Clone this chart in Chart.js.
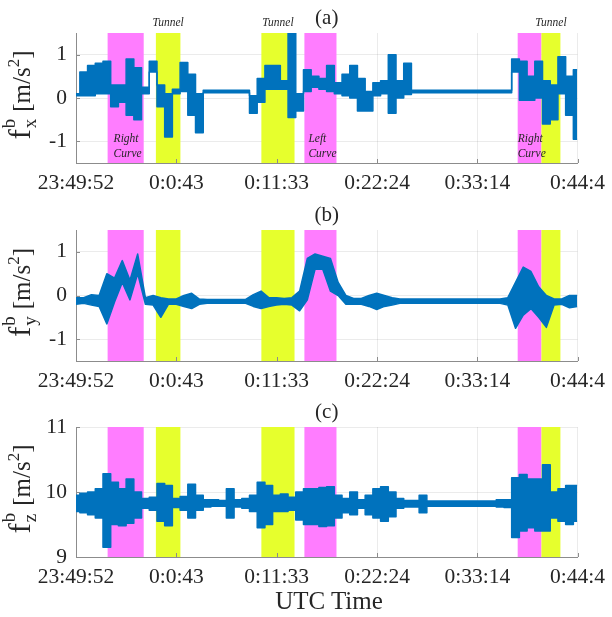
<!DOCTYPE html>
<html>
<head>
<meta charset="utf-8">
<script src="https://cdn.jsdelivr.net/npm/chart.js@4"></script>
<style>
body { margin: 0; background: #fff; width: 612px; height: 617px; overflow: hidden; position: relative; }
.panel { position: absolute; left: 0; width: 612px; }
#xlab { position: absolute; left: 76px; width: 506px; top: 586px; text-align: center;
  font: 25px "Liberation Serif", serif; color: #262626; line-height: 30px; }
</style>
</head>
<body>
<div class="panel" style="top:0;height:194px"><canvas id="pa"></canvas></div>
<div class="panel" style="top:196px;height:196px"><canvas id="pb"></canvas></div>
<div class="panel" style="top:392px;height:196px"><canvas id="pc"></canvas></div>
<div id="xlab">UTC Time</div>
<script>
// time axis (seconds after 23:49:52)
const tickTimes = [0, 651, 1301, 1952, 2602, 3252];
const tickLabels = ['23:49:52', '0:0:43', '0:11:33', '0:22:24', '0:33:14', '0:44:4'];

const times = [0, 50, 100, 150, 200, 250, 300, 350, 400, 450, 500, 550, 600, 650, 700, 750,
  800, 850, 900, 950, 1000, 1050, 1100, 1150, 1200, 1250, 1300, 1350, 1400, 1450, 1500, 1550,
  1600, 1650, 1700, 1750, 1800, 1850, 1900, 1950, 2000, 2050, 2100, 2150, 2200, 2250, 2300, 2350,
  2400, 2450, 2500, 2550, 2600, 2650, 2700, 2750, 2800, 2850, 2900, 2950, 3000, 3050, 3100, 3150,
  3200, 3250];

// upper / lower edge of the plotted band
const fxHigh = [0.1, 0.6, 0.75, 0.8, 0.85, 0.3, 0.3, 0.9, 0.7, 0.25, 0.85, 0.3, 0.1, 0.2, 0.82, 0.55,
  0.1, 0.18, 0.18, 0.18, 0.18, 0.18, 0.18, 0.05, 0.45, 0.75, 0.75,
  0.4, 1.5, 0.1, 0.65, 0.5, 0.45, 0.75, 0.35, 0.55, 0.75, 0.45, 0.15, 0.35, 0.4, 1.0, 0.4, 0.8,
  0.18, 0.18, 0.18, 0.18, 0.18, 0.18, 0.18, 0.18, 0.18, 0.18, 0.18, 0.18, 0.18,
  0.9, 0.85, 0.5, 0.85, 0.4, 0.3, 0.95, 0.5, 0.65];
const fxLow = [0.05, 0.05, 0.05, 0.1, 0.1, -0.2, -0.1, -0.4, -0.5, 0.1, 0.6, -0.2, -0.9, 0.1, 0.15, -0.4,
  -0.8, 0.12, 0.12, 0.12, 0.12, 0.12, 0.12, -0.35, -0.1, 0.2, 0.2,
  0.2, -0.45, -0.3, 0.15, 0.25, 0.2, 0.15, 0.1, 0.05, 0.0, -0.3, -0.3, 0.05, 0.1, -0.35, 0.0, 0.08,
  0.12, 0.12, 0.12, 0.12, 0.12, 0.12, 0.12, 0.12, 0.12, 0.12, 0.12, 0.12, 0.12,
  0.6, -0.05, -0.05, 0.0, -0.6, -0.5, 0.1, -0.4, -0.95];

const fyHigh = [-0.05, -0.05, 0.02, 0.0, 0.5, 0.4, 0.8, 0.35, 0.95, -0.05, 0.0, -0.05, -0.08, -0.08, 0.0, 0.05,
  -0.08, -0.09, -0.09, -0.09, -0.09, -0.09, -0.09, 0.02, 0.1, -0.05, -0.05,
  -0.07, -0.05, 0.1, 0.85, 0.95, 0.9, 0.85, 0.3, 0.0, -0.07, -0.07, 0.0, 0.05, 0.0, -0.05,
  -0.08, -0.08, -0.08, -0.08, -0.08, -0.08, -0.08, -0.08, -0.08, -0.08, -0.08, -0.08, -0.08,
  -0.08, -0.05, 0.3, 0.65, 0.55, 0.2, 0.0, -0.08, -0.08, 0.0, 0.0];
const fyLow = [-0.2, -0.18, -0.22, -0.25, -0.65, -0.15, 0.3, -0.1, 0.5, -0.2, -0.22, -0.5, -0.2, -0.2, -0.25, -0.3,
  -0.2, -0.18, -0.18, -0.18, -0.18, -0.18, -0.18, -0.25, -0.3, -0.25, -0.22,
  -0.2, -0.22, -0.35, -0.1, 0.6, 0.6, 0.1, 0.0, -0.2, -0.2, -0.2, -0.25, -0.32, -0.25, -0.22,
  -0.18, -0.18, -0.18, -0.18, -0.18, -0.18, -0.18, -0.18, -0.18, -0.18, -0.18, -0.18, -0.18,
  -0.18, -0.22, -0.75, -0.45, -0.3, -0.5, -0.73, -0.22, -0.2, -0.28, -0.25];

const fzHigh = [9.95, 9.98, 10.0, 10.05, 10.28, 10.15, 10.05, 10.2, 10.0, 9.9, 9.92, 10.13, 10.1, 9.9, 9.93, 10.12,
  9.95, 9.88, 9.88, 9.87, 10.05, 9.88, 9.9, 9.95, 10.15, 10.1, 9.95,
  9.97, 9.92, 10.0, 10.05, 10.05, 10.07, 10.08, 9.95, 9.9, 10.0, 9.88, 9.95, 10.05, 10.08, 10.0,
  9.9, 9.87, 9.87, 9.95, 9.86, 9.86, 9.86, 9.86, 9.86, 9.86, 9.86, 9.86, 9.86,
  9.88, 9.88, 10.22, 10.27, 10.2, 10.2, 10.42, 10.0, 10.05, 10.1, 10.1];
const fzLow = [9.7, 9.68, 9.65, 9.6, 9.15, 9.5, 9.48, 9.52, 9.6, 9.75, 9.72, 9.55, 9.48, 9.76, 9.72, 9.6,
  9.72, 9.77, 9.78, 9.78, 9.6, 9.77, 9.75, 9.7, 9.45, 9.5, 9.7,
  9.7, 9.72, 9.57, 9.5, 9.5, 9.47, 9.48, 9.6, 9.68, 9.65, 9.75, 9.65, 9.6, 9.55, 9.62,
  9.75, 9.77, 9.77, 9.68, 9.78, 9.78, 9.78, 9.78, 9.78, 9.78, 9.78, 9.78, 9.78,
  9.77, 9.76, 9.3, 9.4, 9.45, 9.4, 9.4, 9.6, 9.55, 9.5, 9.55];

// shaded intervals (seconds)
const curveStart = [205, 1481, 2864];
const curveEnd = [439, 1689, 3018];
const curveNames = ['Right', 'Left', 'Right'];
const tunnelStart = [518, 1202, 3018];
const tunnelEnd = [677, 1417, 3141];

const fxRange = [-1.5, 1.5], fxTicks = [-1, 0, 1];
const fzRange = [9, 11], fzTicks = [9, 10, 11];

const blue = '#0072BD';
const magenta = 'rgb(255,125,255)';
const lime = 'rgb(230,255,45)';
const ink = '#262626';
const axisGray = '#8c8c8c';
const serif = '"Liberation Serif", serif';

Chart.defaults.font.family = serif;

function drawYLabel(ctx, cx, cy, sub) {
  ctx.save();
  ctx.translate(cx, cy);
  ctx.rotate(-Math.PI / 2);
  ctx.fillStyle = ink;
  ctx.textBaseline = 'alphabetic';
  const fBig = '31px ' + serif, fScr = '19px ' + serif, fMain = '25px ' + serif, fSup = '17px ' + serif;
  ctx.font = fBig; const wf = ctx.measureText('f').width;
  ctx.font = fScr; const ws = Math.max(ctx.measureText(sub).width, ctx.measureText('b').width);
  ctx.font = fMain; const wu = ctx.measureText('[m/s').width; const wb = ctx.measureText(']').width;
  ctx.font = fSup; const w2 = ctx.measureText('2').width;
  const gap = 7;
  const total = wf + 1 + ws + gap + wu + w2 + wb;
  let x = -total / 2;
  ctx.font = fBig; ctx.fillText('f', x, 0); x += wf + 1;
  ctx.font = fScr; ctx.fillText(sub, x, 6); ctx.fillText('b', x, -15); x += ws + gap;
  ctx.font = fMain; ctx.fillText('[m/s', x, 0); x += wu;
  ctx.font = fSup; ctx.fillText('2', x, -11); x += w2;
  ctx.font = fMain; ctx.fillText(']', x, 0);
  ctx.restore();
}

const decor = {
  id: 'decor',
  beforeDatasetsDraw(chart, args, opts) {
    const { ctx, chartArea: a, scales: { x } } = chart;
    ctx.save();
    ctx.beginPath();
    ctx.rect(a.left, a.top, a.width, a.height);
    ctx.clip();
    curveStart.forEach((s, i) => {
      const x0 = x.getPixelForValue(s), x1 = x.getPixelForValue(curveEnd[i]);
      ctx.fillStyle = magenta;
      ctx.fillRect(x0, a.top, x1 - x0, a.height);
    });
    tunnelStart.forEach((s, i) => {
      const x0 = x.getPixelForValue(s), x1 = x.getPixelForValue(tunnelEnd[i]);
      ctx.fillStyle = lime;
      ctx.fillRect(x0, a.top, x1 - x0, a.height);
    });
    ctx.restore();
  },
  afterDraw(chart, args, opts) {
    const { ctx, chartArea: a, scales: { x, y } } = chart;
    ctx.save();
    // inward tick marks
    ctx.strokeStyle = axisGray;
    ctx.lineWidth = 1;
    ctx.beginPath();
    x.ticks.forEach(t => {
      const px = Math.round(x.getPixelForValue(t.value)) + 0.5;
      ctx.moveTo(px, a.bottom); ctx.lineTo(px, a.bottom - 4);
    });
    y.ticks.forEach(t => {
      const py = Math.round(y.getPixelForValue(t.value)) + 0.5;
      ctx.moveTo(a.left, py); ctx.lineTo(a.left + 4, py);
    });
    ctx.stroke();
    // panel title
    ctx.fillStyle = ink;
    ctx.font = '21px ' + serif;
    ctx.textAlign = 'center';
    ctx.textBaseline = 'middle';
    ctx.fillText(opts.title, (a.left + a.right) / 2, a.top - 15);
    // notes
    if (opts.notes) {
      ctx.font = 'italic 11.5px ' + serif;
      ctx.textBaseline = 'alphabetic';
      ctx.textAlign = 'center';
      tunnelStart.forEach((s, i) => {
        const cx = (x.getPixelForValue(s) + x.getPixelForValue(tunnelEnd[i])) / 2;
        ctx.fillText('Tunnel', cx, a.top - 7);
      });
      ctx.textAlign = 'left';
      const offs = [6, 4, 0];
      curveStart.forEach((s, i) => {
        const lx = x.getPixelForValue(s) + offs[i];
        ctx.fillText(curveNames[i], lx, a.bottom - 21);
        ctx.fillText('Curve', lx, a.bottom - 6);
      });
    }
    ctx.restore();
    drawYLabel(ctx, 30, (a.top + a.bottom) / 2 - 3, opts.sub);
  }
};

function panel(id, high, low, range, yTicks, padTop, title, sub, notes, stepped) {
  new Chart(document.getElementById(id), {
    type: 'line',
    data: {
      datasets: [
        { data: times.map((t, i) => ({ x: t, y: high[i] })), borderColor: blue, borderWidth: 1.5,
          pointRadius: 0, fill: false, borderJoinStyle: 'round', stepped: stepped },
        { data: times.map((t, i) => ({ x: t, y: low[i] })), borderColor: blue, backgroundColor: blue,
          borderWidth: 1.5, pointRadius: 0, fill: '-1', borderJoinStyle: 'round', stepped: stepped }
      ]
    },
    options: {
      animation: false,
      responsive: true,
      maintainAspectRatio: false,
      layout: { padding: { top: padTop, right: 30, bottom: 0, left: 0 } },
      plugins: {
        legend: { display: false },
        tooltip: { enabled: false },
        decor: { title: title, sub: sub, notes: notes }
      },
      scales: {
        x: {
          type: 'linear', min: 0, max: 3252,
          afterBuildTicks: s => { s.ticks = tickTimes.map(v => ({ value: v })); },
          afterFit: s => { s.height = 31; },
          grid: { color: 'rgba(0,0,0,0.08)', drawTicks: false },
          border: { color: axisGray },
          ticks: { padding: 7, color: ink, font: { size: 21.5 }, maxRotation: 0, autoSkip: false,
            callback: (v, i) => tickLabels[i] }
        },
        y: {
          min: range[0], max: range[1],
          afterBuildTicks: s => { s.ticks = yTicks.map(v => ({ value: v })); },
          afterFit: s => { s.width = 76; },
          grid: { color: 'rgba(0,0,0,0.08)', drawTicks: false },
          border: { color: axisGray },
          ticks: { padding: 9, color: ink, font: { size: 21.5 }, callback: v => String(v) }
        }
      }
    },
    plugins: [decor]
  });
}

panel('pa', fxHigh, fxLow, fxRange, fxTicks, 33, '(a)', 'x', true, 'middle');
panel('pb', fyHigh, fyLow, fxRange, fxTicks, 34, '(b)', 'y', false, false);
panel('pc', fzHigh, fzLow, fzRange, fzTicks, 35, '(c)', 'z', false, 'middle');
</script>
</body>
</html>
